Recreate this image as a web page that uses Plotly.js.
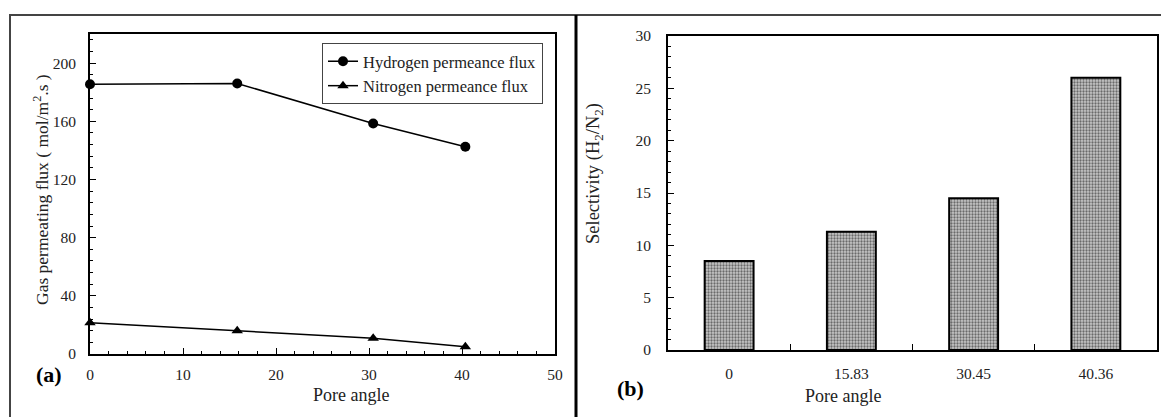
<!DOCTYPE html>
<html>
<head>
<meta charset="utf-8">
<script src="https://cdn.plot.ly/plotly-3.0.1.min.js"></script>
<style>html,body{margin:0;padding:0;background:#fff;}#chart{width:1161px;height:417px;}</style>
</head>
<body>
<div id="chart"></div>
<script>
// ---- data ----
var poreAngle = [0, 15.83, 30.45, 40.36];
var hydrogenFlux = [185.5, 186, 158.5, 142.5];
var nitrogenFlux = [21.5, 16, 10.8, 5];
var angleLabels = ['0', '15.83', '30.45', '40.36'];
var selectivity = [8.5, 11.3, 14.5, 26];
var xTicksA = [0, 10, 20, 30, 40, 50];
var yTicksA = [0, 40, 80, 120, 160, 200];
var yTicksB = [0, 5, 10, 15, 20, 25, 30];

var W = 1161, H = 417;
function px(x){ return x / W; }
function py(y){ return (H - y) / H; }

var font = 'Liberation Serif, Times New Roman, serif';

var traces = [
  {x: poreAngle, y: hydrogenFlux, type: 'scatter', mode: 'lines+markers', name: 'Hydrogen permeance flux',
   cliponaxis: false,
   line: {color: '#000', width: 1.5}, marker: {symbol: 'circle', size: 10, color: '#000'}, xaxis: 'x', yaxis: 'y'},
  {x: poreAngle, y: nitrogenFlux, type: 'scatter', mode: 'lines+markers', name: 'Nitrogen permeance flux',
   cliponaxis: false,
   line: {color: '#000', width: 1.5}, marker: {symbol: 'triangle-up', size: 10, color: '#000'}, xaxis: 'x', yaxis: 'y'},
  {x: angleLabels, y: selectivity, type: 'bar', showlegend: false, width: 0.4,
   marker: {color: '#bdbdbd', line: {color: '#000', width: 2},
            pattern: {shape: '.', fgcolor: '#6a6a6a', bgcolor: '#c8c8c8', size: 3, solidity: 0.45}},
   xaxis: 'x2', yaxis: 'y2'}
];

var tickFont = {family: font, size: 15.5, color: '#222'};

var layout = {
  width: W, height: H,
  margin: {l: 0, r: 0, t: 0, b: 0},
  paper_bgcolor: '#fff', plot_bgcolor: '#fff',
  font: {family: font, color: '#222'},
  showlegend: true,
  legend: {x: px(322), y: py(43), xanchor: 'left', yanchor: 'top',
           bordercolor: '#444', borderwidth: 1, bgcolor: '#fff',
           font: {family: font, size: 16.5, color: '#222'}, tracegroupgap: 0},
  xaxis: {domain: [px(90), px(555)], range: [0, 50], tickvals: xTicksA, ticks: 'inside', ticklen: 6,
          tickcolor: '#000', showline: true, linecolor: '#000', linewidth: 2, mirror: true,
          showgrid: false, zeroline: false, tickfont: tickFont, ticklabelstandoff: 5,
          minor: {dtick: 2, ticks: 'inside', ticklen: 3, tickcolor: '#000', showgrid: false},
          anchor: 'y'},
  yaxis: {domain: [py(354), py(34)], range: [0, 220], tickvals: yTicksA, ticks: 'inside', ticklen: 6,
          tickcolor: '#000', showline: true, linecolor: '#000', linewidth: 2, mirror: true,
          showgrid: false, zeroline: false, tickfont: tickFont, ticklabelstandoff: 9,
          minor: {dtick: 8, ticks: 'inside', ticklen: 3, tickcolor: '#000', showgrid: false},
          anchor: 'x'},
  xaxis2: {domain: [px(668), px(1157)], type: 'category', tickson: 'boundaries', ticks: 'inside', ticklen: 6,
           tickcolor: '#000', showline: true, linecolor: '#000', linewidth: 2, mirror: true,
           showgrid: false, zeroline: false, tickfont: tickFont, ticklabelstandoff: 8, anchor: 'y2'},
  yaxis2: {domain: [py(350), py(36)], range: [0, 30], tickvals: yTicksB, ticks: 'inside', ticklen: 6,
           tickcolor: '#000', showline: true, linecolor: '#000', linewidth: 2, mirror: true,
           showgrid: false, zeroline: false, tickfont: tickFont, ticklabelstandoff: 12,
           minor: {dtick: 1, ticks: 'inside', ticklen: 3, tickcolor: '#000', showgrid: false},
           anchor: 'x2'},
  annotations: [
    {text: 'Gas permeating flux ( mol/m<sup>2</sup>.s )', x: px(28), y: py(190), xref: 'paper', yref: 'paper',
     textangle: -90, showarrow: false, font: {family: font, size: 17.5, color: '#222'}},
    {text: 'Pore angle', x: px(311), y: py(407), xref: 'paper', yref: 'paper', showarrow: false,
     font: {family: font, size: 18, color: '#222'}},
    {text: '<b>(a)</b>', x: px(34), y: py(389), xref: 'paper', yref: 'paper', showarrow: false,
     font: {family: font, size: 22, color: '#000'}},
    {text: 'Selectivity (H<sub>2</sub>/N<sub>2</sub>)', x: px(595), y: py(174), xref: 'paper', yref: 'paper',
     textangle: -90, showarrow: false, font: {family: font, size: 18.5, color: '#222'}},
    {text: 'Pore angle', x: px(883), y: py(408), xref: 'paper', yref: 'paper', showarrow: false,
     font: {family: font, size: 18, color: '#222'}},
    {text: '<b>(b)</b>', x: px(630), y: py(403), xref: 'paper', yref: 'paper', showarrow: false,
     font: {family: font, size: 22, color: '#000'}}
  ],
  shapes: [
    {type: 'line', xref: 'paper', yref: 'paper', x0: px(9), x1: 1, y0: py(15), y1: py(15), line: {color: '#444', width: 2}},
    {type: 'line', xref: 'paper', yref: 'paper', x0: px(10), x1: px(10), y0: py(15), y1: 0, line: {color: '#444', width: 2}},
    {type: 'line', xref: 'paper', yref: 'paper', x0: px(576), x1: px(576), y0: py(15), y1: 0, line: {color: '#000', width: 3}}
  ]
};

Plotly.newPlot('chart', traces, layout, {displayModeBar: false, staticPlot: true});
</script>
</body>
</html>
